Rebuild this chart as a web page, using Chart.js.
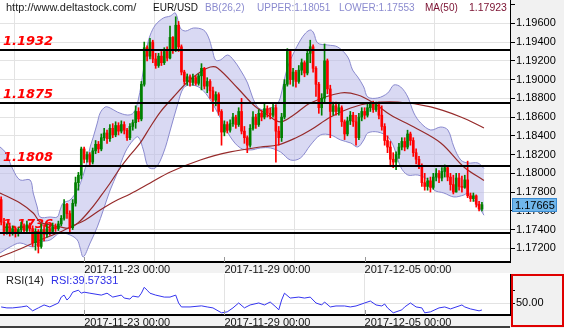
<!DOCTYPE html>
<html>
<head>
<meta charset="utf-8">
<script src="https://cdn.jsdelivr.net/npm/chart.js@4.4.1/dist/chart.umd.min.js"></script>
<style>
  html, body { margin: 0; padding: 0; background: #fff; }
  #wrap { position: relative; width: 564px; height: 328px; overflow: hidden; }
  #main { position: absolute; left: 0; top: 0; }
  #rsi { position: absolute; left: 0; top: 273px; }
</style>
</head>
<body>
<div id="wrap">
  <canvas id="main" width="564" height="273" style="width:564px;height:273px"></canvas>
  <canvas id="rsi" width="564" height="55" style="width:564px;height:55px"></canvas>
</div>
<script>
// EUR/USD candles, index 0..168
const open = [
  1.1772,1.1748,1.1738,1.1743,1.1737,1.1741,1.1736,1.1740,1.1744,1.1739,
  1.1745,1.1741,1.1726,1.1738,1.1722,1.1740,1.1735,1.1741,1.1738,1.1743,
  1.1741,1.1746,1.1752,1.1767,1.1757,1.1742,1.1768,1.1790,1.1798,1.1826,
  1.1815,1.1820,1.1812,1.1824,1.1831,1.1826,1.1838,1.1843,1.1837,1.1848,
  1.1841,1.1851,1.1845,1.1852,1.1846,1.1838,1.1850,1.1854,1.1866,1.1858,
  1.1895,1.1934,1.1925,1.1940,1.1922,1.1915,1.1925,1.1918,1.1930,1.1923,
  1.1945,1.1932,1.1958,1.1935,1.1908,1.1898,1.1903,1.1897,1.1902,1.1896,
  1.1904,1.1912,1.1893,1.1898,1.1888,1.1878,1.1884,1.1866,1.1844,1.1852,
  1.1846,1.1853,1.1860,1.1852,1.1866,1.1845,1.1838,1.1830,1.1848,1.1860,
  1.1852,1.1864,1.1860,1.1869,1.1864,1.1862,1.1870,1.1845,1.1838,1.1860,
  1.1895,1.1930,1.1900,1.1908,1.1898,1.1910,1.1918,1.1907,1.1928,1.1935,
  1.1912,1.1895,1.1870,1.1880,1.1920,1.1890,1.1866,1.1872,1.1866,1.1870,
  1.1855,1.1842,1.1856,1.1862,1.1855,1.1838,1.1860,1.1866,1.1862,1.1870,
  1.1874,1.1868,1.1873,1.1862,1.1850,1.1835,1.1828,1.1815,1.1812,1.1820,
  1.1828,1.1834,1.1828,1.1842,1.1835,1.1822,1.1815,1.1807,1.1790,1.1786,
  1.1792,1.1785,1.1796,1.1800,1.1795,1.1802,1.1806,1.1796,1.1788,1.1780,
  1.1795,1.1786,1.1785,1.1793,1.1776,1.1773,1.1776,1.1767,1.1762
];
const high = [
  1.1775,1.1752,1.1746,1.1747,1.1744,1.1743,1.1742,1.1748,1.1746,1.1749,
  1.1747,1.1744,1.1741,1.1740,1.1746,1.1745,1.1745,1.1745,1.1747,1.1746,
  1.1749,1.1755,1.1772,1.1768,1.1760,1.1772,1.1796,1.1801,1.1828,1.1828,
  1.1823,1.1822,1.1827,1.1835,1.1834,1.1842,1.1848,1.1846,1.1852,1.1853,
  1.1855,1.1854,1.1856,1.1855,1.1848,1.1853,1.1857,1.1872,1.1870,1.1898,
  1.1940,1.1936,1.1944,1.1942,1.1928,1.1928,1.1930,1.1934,1.1935,1.1957,
  1.1946,1.1967,1.1962,1.1937,1.1910,1.1906,1.1905,1.1906,1.1904,1.1906,
  1.1917,1.1913,1.1902,1.1900,1.1892,1.1887,1.1886,1.1868,1.1856,1.1855,
  1.1857,1.1864,1.1862,1.1870,1.1880,1.1850,1.1840,1.1852,1.1866,1.1863,
  1.1868,1.1867,1.1874,1.1872,1.1870,1.1874,1.1873,1.1850,1.1864,1.1900,
  1.1933,1.1932,1.1912,1.1910,1.1915,1.1922,1.1920,1.1932,1.1942,1.1937,
  1.1914,1.1897,1.1885,1.1938,1.1922,1.1894,1.1876,1.1876,1.1874,1.1872,
  1.1857,1.1860,1.1866,1.1865,1.1862,1.1864,1.1870,1.1870,1.1874,1.1876,
  1.1877,1.1876,1.1876,1.1872,1.1853,1.1840,1.1834,1.1822,1.1823,1.1832,
  1.1838,1.1838,1.1846,1.1844,1.1838,1.1826,1.1818,1.1810,1.1800,1.1795,
  1.1796,1.1800,1.1805,1.1803,1.1806,1.1809,1.1808,1.1800,1.1798,1.1800,
  1.1800,1.1797,1.1798,1.1813,1.1779,1.1779,1.1777,1.1770,1.1769
];
const low = [
  1.1745,1.1734,1.1735,1.1733,1.1734,1.1732,1.1733,1.1737,1.1736,1.1737,
  1.1738,1.1722,1.1718,1.1715,1.1720,1.1728,1.1732,1.1734,1.1736,1.1738,
  1.1739,1.1744,1.1750,1.1752,1.1736,1.1740,1.1765,1.1782,1.1794,1.1811,
  1.1812,1.1808,1.1810,1.1821,1.1822,1.1824,1.1835,1.1832,1.1834,1.1838,
  1.1839,1.1841,1.1843,1.1842,1.1835,1.1836,1.1846,1.1848,1.1855,1.1856,
  1.1893,1.1920,1.1922,1.1918,1.1912,1.1913,1.1915,1.1916,1.1920,1.1922,
  1.1928,1.1930,1.1930,1.1905,1.1895,1.1894,1.1893,1.1894,1.1894,1.1894,
  1.1889,1.1890,1.1886,1.1880,1.1866,1.1872,1.1862,1.1830,1.1840,1.1843,
  1.1844,1.1850,1.1848,1.1850,1.1842,1.1832,1.1822,1.1828,1.1846,1.1848,
  1.1850,1.1856,1.1858,1.1860,1.1858,1.1860,1.1812,1.1830,1.1834,1.1858,
  1.1893,1.1895,1.1893,1.1892,1.1896,1.1905,1.1903,1.1905,1.1918,1.1908,
  1.1882,1.1864,1.1862,1.1876,1.1885,1.1838,1.1862,1.1862,1.1862,1.1850,
  1.1836,1.1840,1.1852,1.1850,1.1830,1.1836,1.1856,1.1858,1.1860,1.1866,
  1.1865,1.1866,1.1858,1.1846,1.1830,1.1822,1.1808,1.1806,1.1804,1.1816,
  1.1825,1.1824,1.1826,1.1830,1.1818,1.1810,1.1805,1.1786,1.1782,1.1782,
  1.1780,1.1783,1.1792,1.1790,1.1792,1.1796,1.1792,1.1782,1.1778,1.1780,
  1.1782,1.1780,1.1784,1.1774,1.1770,1.1770,1.1764,1.1760,1.1760
];
const close = [
  1.1748,1.1738,1.1743,1.1737,1.1741,1.1736,1.1740,1.1744,1.1739,1.1745,
  1.1741,1.1726,1.1738,1.1722,1.1740,1.1735,1.1741,1.1738,1.1743,1.1741,
  1.1746,1.1752,1.1767,1.1757,1.1742,1.1768,1.1790,1.1798,1.1826,1.1815,
  1.1820,1.1812,1.1824,1.1831,1.1826,1.1838,1.1843,1.1837,1.1848,1.1841,
  1.1851,1.1845,1.1852,1.1846,1.1838,1.1850,1.1854,1.1866,1.1858,1.1895,
  1.1934,1.1925,1.1940,1.1922,1.1915,1.1925,1.1918,1.1930,1.1923,1.1945,
  1.1932,1.1958,1.1935,1.1908,1.1898,1.1903,1.1897,1.1902,1.1896,1.1904,
  1.1912,1.1893,1.1898,1.1888,1.1878,1.1884,1.1866,1.1844,1.1852,1.1846,
  1.1853,1.1860,1.1852,1.1866,1.1845,1.1838,1.1830,1.1848,1.1860,1.1852,
  1.1864,1.1860,1.1869,1.1864,1.1862,1.1870,1.1845,1.1838,1.1860,1.1895,
  1.1930,1.1900,1.1908,1.1898,1.1910,1.1918,1.1907,1.1928,1.1935,1.1912,
  1.1895,1.1870,1.1880,1.1920,1.1890,1.1866,1.1872,1.1866,1.1870,1.1855,
  1.1842,1.1856,1.1862,1.1855,1.1838,1.1860,1.1866,1.1862,1.1870,1.1874,
  1.1868,1.1873,1.1862,1.1850,1.1835,1.1828,1.1815,1.1812,1.1820,1.1828,
  1.1834,1.1828,1.1842,1.1835,1.1822,1.1815,1.1807,1.1790,1.1786,1.1792,
  1.1785,1.1796,1.1800,1.1795,1.1802,1.1806,1.1796,1.1788,1.1780,1.1795,
  1.1786,1.1785,1.1793,1.1776,1.1773,1.1776,1.1767,1.1762,1.17665
];

// x axis: candle index, date labels at these candles
const dateIdx = [29, 78, 127];
const dateLabels = ['2017-11-23 00:00', '2017-11-29 00:00', '2017-12-05 00:00'];
const priceTicks = [1.198, 1.196, 1.194, 1.192, 1.190, 1.188, 1.186, 1.184, 1.182, 1.180, 1.178, 1.176, 1.174, 1.172];
const levels = [1.1932, 1.1875, 1.1808, 1.1736];

// Bollinger bands (26,2)
const bbUpperX = [-0.4,1.4,4.2,6.6,10.1,11.2,12.6,13.6,17.1,19.6,20.6,21.7,24.1,26.6,28.7,30.1,31.1,32.2,33.6,34.6,
  36.4,38.1,40.6,44.1,46.2,47.9,49.7,51.1,52.1,53.9,56.7,59.1,60.9,62.6,64.4,67.2,70.7,72.4,73.8,74.9,
  76.6,79.1,81.2,83.6,86.1,87.8,89.6,91.7,94.1,96.6,97.6,98.7,100.1,102.2,104.6,106.4,108.1,109.2,110.6,114.1,
  117.6,121.1,122.8,124.6,126.7,128.1,131.6,135.1,137.2,139.6,142.1,144.2,146.6,150.1,153.6,156.1,158.2,160.6,163.1,166.6,168.7];
const bbUpperY = [1.18281,1.18228,1.18036,1.17929,1.17929,1.17790,1.17641,1.17534,1.17534,1.17534,
  1.17609,1.17684,1.17716,1.17822,1.17982,1.18142,1.18281,1.18388,1.18537,1.18644,
  1.18708,1.18697,1.18654,1.18622,1.18644,1.18782,1.19102,1.19369,1.19476,1.19582,
  1.19657,1.19678,1.19710,1.19550,1.19518,1.19550,1.19529,1.19454,1.19316,1.19209,
  1.19209,1.19262,1.19209,1.19102,1.18964,1.18814,1.18708,1.18676,1.18697,1.18750,
  1.18814,1.18964,1.19134,1.19284,1.19422,1.19497,1.19529,1.19497,1.19390,1.19369,
  1.19348,1.19241,1.19102,1.19028,1.18921,1.18814,1.18804,1.18857,1.18942,1.18921,
  1.18814,1.18644,1.18537,1.18462,1.18494,1.18462,1.18281,1.18142,1.18110,1.18110,1.18051];
const bbLowerX = [-0.4,3.1,6.6,11.2,13.6,17.1,20.6,24.1,26.6,27.6,28.7,31.1,33.6,35.7,38.1,40.6,43.4,46.2,47.9,49.7,
  51.4,53.9,56.7,59.1,61.6,63.7,66.1,69.6,73.1,76.6,80.1,83.6,87.1,90.6,94.1,97.6,101.1,104.6,108.1,111.6,
  115.1,118.6,122.1,124.6,126.7,128.1,131.6,135.1,137.2,139.6,142.1,145.6,149.1,151.2,154.7,158.2,161.7,163.1,165.2,167.6,168.7];
const bbLowerY = [1.17150,1.17214,1.17257,1.17214,1.17268,1.17289,1.17364,1.17342,1.17289,1.17204,
  1.17108,1.17257,1.17428,1.17609,1.17822,1.18004,1.18228,1.18356,1.18388,1.18249,
  1.18068,1.18057,1.18217,1.18462,1.18729,1.18910,1.18942,1.18910,1.18782,1.18590,
  1.18388,1.18270,1.18249,1.18270,1.18270,1.18228,1.18142,1.18164,1.18302,1.18409,
  1.18409,1.18356,1.18324,1.18281,1.18356,1.18430,1.18441,1.18388,1.18281,1.18068,
  1.17982,1.17982,1.17929,1.17822,1.17790,1.17748,1.17769,1.17790,1.17716,1.17609,1.17553];

// MA(50) and the slower average
const ma50X = [-0.4,6.6,11.2,13.6,17.1,20.6,24.1,27.6,31.1,34.6,38.1,41.6,45.1,48.6,52.1,55.6,60.2,65.1,69.6,73.1,
  75.6,82.6,88.2,93.1,97.6,102.2,108.1,118.6,124.6,130.2,136.1,144.2,153.6,161.7,168.7];
const ma50Y = [1.17790,1.17684,1.17577,1.17481,1.17449,1.17428,1.17417,1.17492,1.17609,1.17748,
  1.17897,1.18057,1.18196,1.18324,1.18494,1.18654,1.18814,1.18974,1.19081,1.19134,
  1.19124,1.18910,1.18729,1.18622,1.18548,1.18622,1.18750,1.18857,1.18836,1.18750,
  1.18622,1.18494,1.18324,1.18068,1.17923];
const maSlowX = [-0.4,6.6,13.6,20.6,24.1,29.4,34.6,39.9,45.1,52.1,59.1,69.6,80.1,90.6,96.6,102.9,108.1,115.1,122.1,129.2,138.6,150.1,160.6,168.7];
const maSlowY = [1.17108,1.17193,1.17289,1.17374,1.17428,1.17502,1.17609,1.17705,1.17780,1.17897,1.18014,1.18142,
  1.18228,1.18281,1.18302,1.18377,1.18462,1.18601,1.18697,1.18750,1.18761,1.18708,1.18601,1.18484];

// RSI(14)
const rsiX = [0,2,4,7,9,11,13,15,17,20,21,22,23,24,25,27,28,29,31,35,37,39,42,43,45,46,48,49,50,51,
  52,54,57,59,61,62,63,66,70,72,74,77,79,81,83,85,87,90,92,94,96,97,98,99,101,104,106,108,110,112,
  113,115,117,120,122,124,127,129,131,133,134,135,137,140,141,143,145,147,148,150,153,155,157,160,161,162,164,167,168];
const rsiY = [44.3,42.8,42.8,44.3,45.8,38.2,42.8,47.4,44.3,50.5,59.7,62.8,55.1,59.7,67.4,70.5,65.8,67.4,65.8,62.8,
  65.8,59.7,62.8,58.2,56.6,61.3,59.7,65.8,75,70.5,65.8,62.8,59.7,59.7,62.8,50.5,44.3,44.3,46,44.3,
  42.8,35.1,36.6,42.8,50.5,42.8,47.4,50.5,47.4,52,44.3,39.7,55.1,65.8,58.2,59.7,58.2,59.7,50.5,47.4,
  52,44.3,45.8,45.8,44.3,45.8,50.5,53.5,47.4,45.8,48.9,42.8,35.1,39.7,44.3,50.5,44.3,42.8,35.1,36.6,
  42.8,44.3,41.2,45.8,47.4,44.3,41.2,38.2,39.57331];
const rsiTicks = [50, 70];

const X_MIN = -0.4, X_MAX = 177.8;
const P_MIN = 1.17054, P_MAX = 1.19849;
const R_MIN = 31.7, R_MAX = 95.8;

const FONT = '"Liberation Sans", Arial, sans-serif';
const UP = '#008000', DOWN = '#ff0000';
const BB_LINE = '#8a8acf', BB_FILL = 'rgba(186,186,234,0.55)';
const MA_COLOR = '#962a2a';
const GRID = '#e3e3e3';

const last = close.length - 1;
const candleColor = close.map((c, i) => c >= open[i] ? UP : DOWN);
const pts = (xs, ys) => xs.map((x, i) => ({ x: x, y: ys[i] }));

// no extra room for overflowing tick labels
function noPad(s) {
  s.paddingTop = 0; s.paddingBottom = 0; s.paddingLeft = 0; s.paddingRight = 0;
}

function dateScale(bandHeight) {
  return {
    type: 'linear', position: 'bottom', min: X_MIN, max: X_MAX, offset: false,
    afterBuildTicks: s => { s.ticks = dateIdx.map(v => ({ value: v })); },
    afterFit: s => { s.height = bandHeight; noPad(s); },
    grid: { color: GRID, drawTicks: false },
    border: { display: true, color: '#000', width: 2 },
    ticks: {
      autoSkip: false, maxRotation: 0, align: 'start', padding: 1,
      color: '#111', font: { family: FONT, size: 11 },
      callback: (v, i) => dateLabels[i]
    }
  };
}

const mainDecor = {
  id: 'mainDecor',
  beforeDraw(chart) {
    const { ctx, chartArea: a, width, height } = chart;
    ctx.save();
    ctx.fillStyle = '#fff';
    ctx.fillRect(0, 0, width, height);
    ctx.fillStyle = '#f1f1f1';
    ctx.fillRect(a.right, 0, width - a.right, height);
    ctx.fillStyle = '#f2f2f2';
    ctx.fillRect(0, a.bottom, a.right, height - a.bottom);
    ctx.restore();
  },
  afterDatasetDraw(chart, args) {
    if (args.index !== 1) return;
    const { ctx, scales: { y } } = chart;
    ctx.save();
    ctx.font = 'italic bold 13px "DejaVu Sans", sans-serif';
    ctx.fillStyle = '#ff0000';
    ctx.textBaseline = 'alphabetic';
    levels.forEach(l => ctx.fillText(l.toFixed(4), 3, Math.round(y.getPixelForValue(l)) - 5));
    ctx.restore();
  },
  afterDatasetsDraw(chart) {
    const { ctx, chartArea: a, scales: { x, y } } = chart;
    ctx.save();
    ctx.strokeStyle = '#000';
    ctx.lineWidth = 2;
    levels.forEach(l => {
      const py = Math.round(y.getPixelForValue(l));
      ctx.beginPath(); ctx.moveTo(a.left, py); ctx.lineTo(a.right, py); ctx.stroke();
    });
    ctx.strokeStyle = '#999';
    ctx.lineWidth = 1;
    dateIdx.forEach(d => {
      const px = Math.round(x.getPixelForValue(d)) + 0.5;
      ctx.beginPath(); ctx.moveTo(px, a.bottom - 5); ctx.lineTo(px, a.bottom); ctx.stroke();
    });
    ctx.restore();
  },
  afterDraw(chart) {
    const { ctx, scales: { y } } = chart;
    ctx.save();
    ctx.textBaseline = 'middle';
    const head = [
      ['http://www.deltastock.com/', 6, '#222', 11],
      ['EUR/USD', 153, '#111', 10],
      ['BB(26,2)', 205, BB_LINE, 10],
      ['UPPER:' + bbUpperY[bbUpperY.length - 1].toFixed(5), 257, BB_LINE, 10],
      ['LOWER:' + bbLowerY[bbLowerY.length - 1].toFixed(5), 339, BB_LINE, 10],
      ['MA(50)', 425, '#7a1030', 10],
      [ma50Y[ma50Y.length - 1].toFixed(5), 469, '#7a1030', 10.5]
    ];
    head.forEach(([t, hx, c, fs]) => {
      ctx.font = fs + 'px ' + FONT;
      ctx.fillStyle = c;
      ctx.fillText(t, hx, 8);
    });
    // last price marker
    ctx.font = '11px ' + FONT;
    const py = Math.round(y.getPixelForValue(close[last]));
    ctx.fillStyle = '#70b6ea';
    ctx.fillRect(512, py - 7, 45, 14);
    ctx.strokeStyle = '#3a8bd2';
    ctx.lineWidth = 1;
    ctx.strokeRect(512.5, py - 6.5, 44, 13);
    ctx.fillStyle = '#000';
    ctx.fillText(close[last].toFixed(5), 515, py + 0.5);
    ctx.restore();
  }
};

new Chart(document.getElementById('main'), {
  type: 'line',
  data: {
    datasets: [
      { data: pts(bbUpperX, bbUpperY), borderColor: BB_LINE, borderWidth: 1, backgroundColor: BB_FILL,
        fill: '+1', pointRadius: 0, tension: 0.35, order: 6 },
      { data: pts(bbLowerX, bbLowerY), borderColor: BB_LINE, borderWidth: 1, fill: false,
        pointRadius: 0, tension: 0.35, order: 5 },
      { data: pts(ma50X, ma50Y), borderColor: MA_COLOR, borderWidth: 1.2, fill: false,
        pointRadius: 0, tension: 0.35, order: 4 },
      { data: pts(maSlowX, maSlowY), borderColor: MA_COLOR, borderWidth: 1.2, fill: false,
        pointRadius: 0, tension: 0.35, order: 3 },
      { type: 'bar', data: close.map((c, i) => ({ x: i, y: [low[i], high[i]] })),
        backgroundColor: candleColor, barThickness: 1, grouped: false, borderWidth: 0, order: 2 },
      { type: 'bar', data: close.map((c, i) => ({ x: i, y: [open[i], c] })),
        backgroundColor: candleColor, barThickness: 2, grouped: false, borderWidth: 0, minBarLength: 1, order: 1 }
    ]
  },
  options: {
    responsive: false, animation: false, events: [],
    layout: { padding: 0 },
    plugins: { legend: { display: false }, tooltip: { enabled: false } },
    scales: {
      x: dateScale(11),
      y: {
        type: 'linear', position: 'right', min: P_MIN, max: P_MAX,
        afterBuildTicks: s => { s.ticks = priceTicks.map(v => ({ value: v })); },
        afterFit: s => { s.width = 54; noPad(s); },
        grid: { color: c => c.tick && c.tick.value > 1.197 ? 'rgba(0,0,0,0)' : GRID, tickColor: '#000', tickLength: 5 },
        border: { display: true, color: '#000', width: 1 },
        ticks: {
          padding: 1, color: '#000', font: { family: FONT, size: 11 },
          callback: v => v > 1.197 ? '' : v.toFixed(5)
        }
      }
    }
  },
  plugins: [mainDecor]
});

const rsiDecor = {
  id: 'rsiDecor',
  beforeDraw(chart) {
    const { ctx, chartArea: a, width, height } = chart;
    ctx.save();
    ctx.fillStyle = '#fff';
    ctx.fillRect(0, 0, width, height);
    ctx.fillStyle = '#f1f1f1';
    ctx.fillRect(a.right, 0, width - a.right, height);
    ctx.fillStyle = '#f2f2f2';
    ctx.fillRect(0, a.bottom, a.right, height - a.bottom);
    ctx.restore();
  },
  afterDraw(chart) {
    const { ctx, chartArea: a, scales: { x }, width, height } = chart;
    ctx.save();
    ctx.font = '11px ' + FONT;
    ctx.textBaseline = 'middle';
    ctx.fillStyle = '#222';
    ctx.fillText('RSI(14)', 6, 8);
    ctx.fillStyle = '#2f2fe8';
    ctx.fillText('RSI:' + rsiY[rsiY.length - 1].toFixed(5), 51, 8);
    ctx.strokeStyle = '#999';
    ctx.lineWidth = 1;
    dateIdx.forEach(d => {
      const px = Math.round(x.getPixelForValue(d)) + 0.5;
      ctx.beginPath(); ctx.moveTo(px, a.bottom - 5); ctx.lineTo(px, a.bottom); ctx.stroke();
    });
    ctx.strokeStyle = '#000';
    ctx.lineWidth = 1.5;
    ctx.beginPath(); ctx.moveTo(0, height - 1); ctx.lineTo(a.right, height - 1); ctx.stroke();
    ctx.strokeStyle = '#e00000';
    ctx.lineWidth = 2;
    ctx.strokeRect(a.right + 2, 2, width - a.right - 3, height - 4);
    ctx.restore();
  }
};

new Chart(document.getElementById('rsi'), {
  type: 'line',
  data: {
    datasets: [
      { data: pts(rsiX, rsiY), borderColor: '#3535f0', borderWidth: 1, fill: false, pointRadius: 0, tension: 0 }
    ]
  },
  options: {
    responsive: false, animation: false, events: [],
    layout: { padding: { top: 1 } },
    plugins: { legend: { display: false }, tooltip: { enabled: false } },
    scales: {
      x: dateScale(13),
      y: {
        type: 'linear', position: 'right', min: R_MIN, max: R_MAX,
        afterBuildTicks: s => { s.ticks = rsiTicks.map(v => ({ value: v })); },
        afterFit: s => { s.width = 54; noPad(s); },
        grid: { color: c => c.tick && c.tick.value === 50 ? GRID : 'rgba(0,0,0,0)', tickColor: '#000', tickLength: 5 },
        border: { display: true, color: '#000', width: 1 },
        ticks: {
          padding: 1, color: '#000', font: { family: FONT, size: 11 },
          callback: v => v === 50 ? v.toFixed(2) : ''
        }
      }
    }
  },
  plugins: [rsiDecor]
});
</script>
</body>
</html>
